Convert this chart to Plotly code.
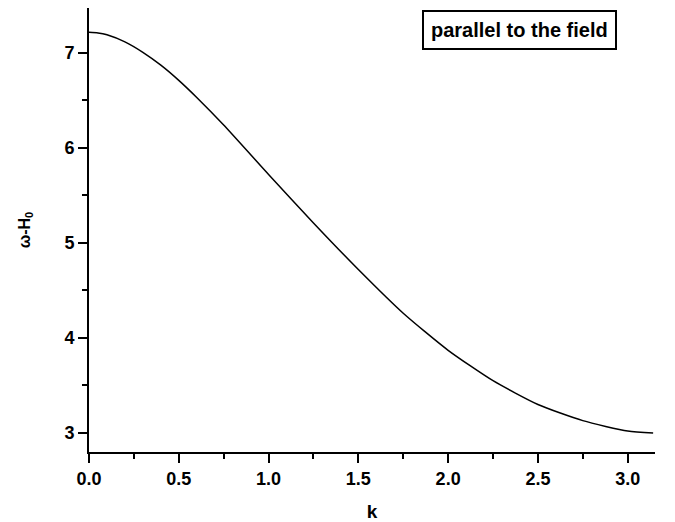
import plotly.graph_objects as go

# Data
k_values = [0.0, 0.05, 0.1, 0.2, 0.3, 0.4, 0.5, 0.6, 0.75, 1.0, 1.25, 1.5, 1.75, 2.0, 2.25, 2.5, 2.75, 3.0, 3.1416]
omega_minus_h0 = [7.215, 7.209, 7.19, 7.115, 7.005, 6.87, 6.71, 6.53, 6.24, 5.72, 5.21, 4.72, 4.26, 3.87, 3.55, 3.30, 3.13, 3.02, 3.00]

x_ticks = [0.0, 0.5, 1.0, 1.5, 2.0, 2.5, 3.0]
x_tick_labels = ["0.0", "0.5", "1.0", "1.5", "2.0", "2.5", "3.0"]
y_ticks = [3, 4, 5, 6, 7]
y_tick_labels = ["3", "4", "5", "6", "7"]

FONT = "Liberation Sans, Arial, sans-serif"

fig = go.Figure()
fig.add_trace(go.Scatter(
    x=k_values, y=omega_minus_h0, mode="lines",
    line=dict(color="black", width=1.5, shape="spline", smoothing=0.6),
    showlegend=False, hoverinfo="skip",
))

axis_common = dict(
    showline=True, linecolor="black", linewidth=2, mirror=False,
    showgrid=False, zeroline=False, automargin=False,
    ticks="outside", ticklen=9, tickwidth=2, tickcolor="black",
    tickfont=dict(family=FONT, size=18, color="black", weight="bold"),
    minor=dict(ticks="outside", ticklen=5, tickwidth=2, tickcolor="black"),
)

fig.update_xaxes(
    range=[0, 3.152], tickvals=x_ticks, ticktext=x_tick_labels,
    ticklabelstandoff=0,
    title=dict(text="k", font=dict(family=FONT, size=19, color="black", weight="bold"), standoff=21),
    minor_dtick=0.25, minor_tick0=0,
    **axis_common,
)
fig.update_yaxes(
    range=[2.8, 7.471], tickvals=y_ticks, ticktext=y_tick_labels,
    ticklabelstandoff=0,
    title=dict(text="ω-H<sub>0</sub>", font=dict(family=FONT, size=16, color="black", weight="bold"), standoff=30),
    minor_dtick=0.5, minor_tick0=0,
    **axis_common,
)

fig.add_annotation(
    x=0.76, y=0.95, xref="paper", yref="paper",
    text="parallel to the field", showarrow=False,
    font=dict(family=FONT, size=20, color="black", weight="bold"),
    bordercolor="black", borderwidth=2, borderpad=7, bgcolor="white",
    xanchor="center", yanchor="middle",
)

# The page places the figure 8px from the window's top-left corner
fig.update_layout(
    width=667, height=514,
    margin=dict(l=81, r=20, t=0, b=70),
    paper_bgcolor="white", plot_bgcolor="white",
)

fig.write_html("out.html")
